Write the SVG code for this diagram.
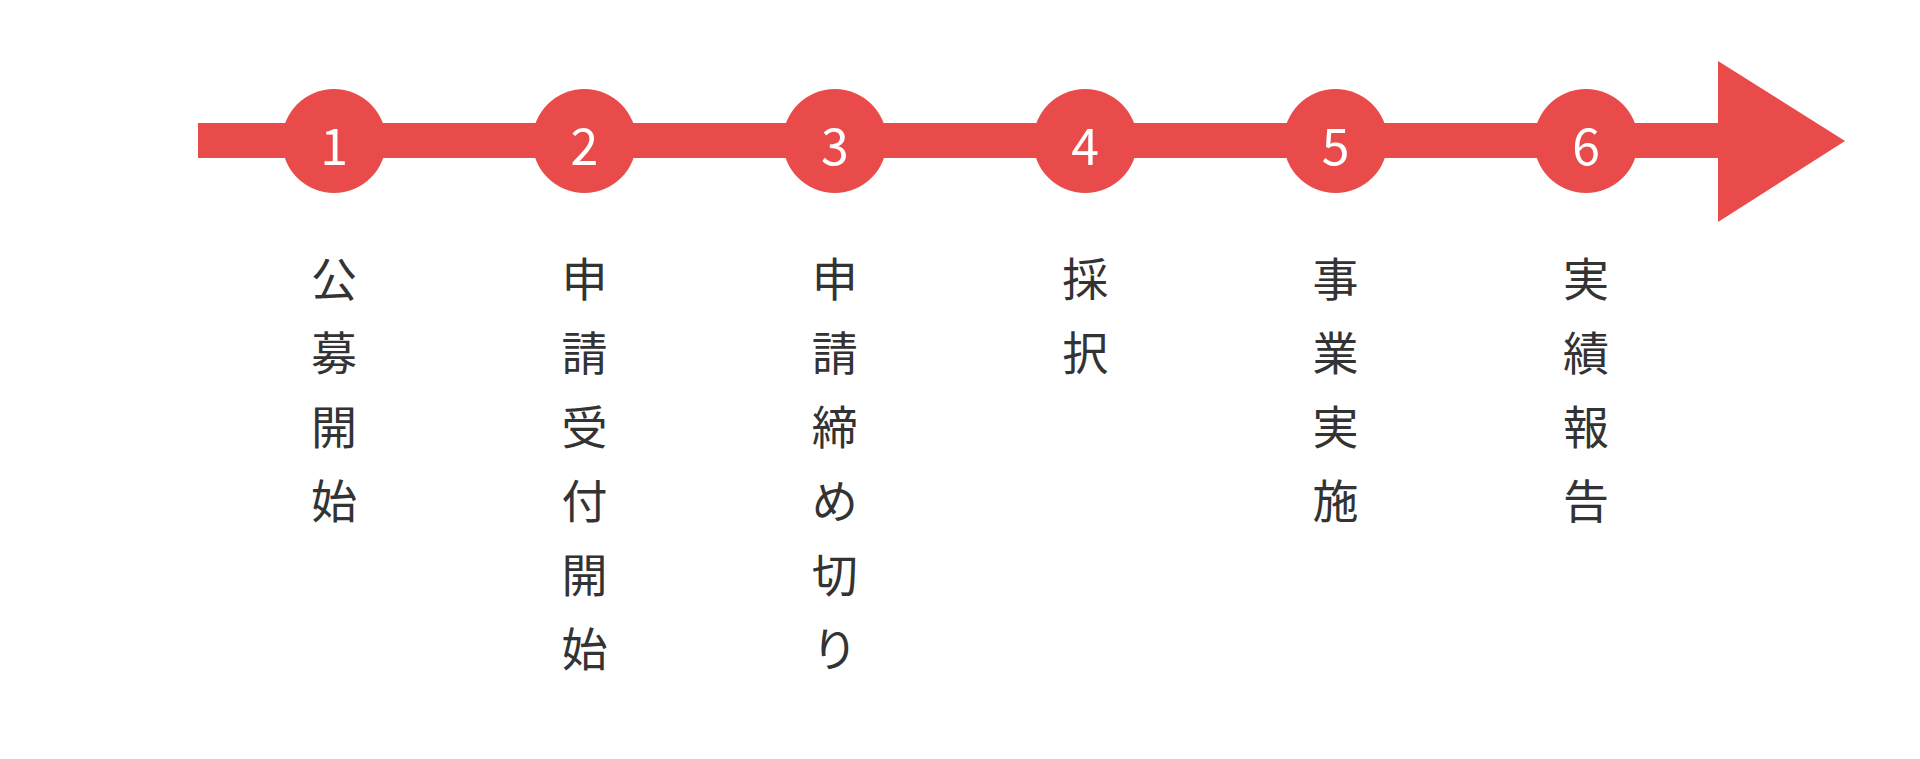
<svg xmlns="http://www.w3.org/2000/svg" width="1920" height="759" viewBox="0 0 1920 759">
<style>
.bar{fill:#E94B4B}
.dot{fill:#E94B4B}
.num{fill:#FFFFFF;font-family:"Noto Sans CJK JP","Noto Sans",sans-serif;font-size:50px;text-anchor:middle}
.lbl{fill:#333333;font-family:"Noto Sans CJK JP",sans-serif;font-size:46px;text-anchor:middle}
</style>
<rect width="1920" height="759" fill="#FFFFFF"/>
<g id="connectors">
<rect class="bar" x="198" y="123" width="1530" height="35"/>
<polygon class="bar" points="1718,61 1845,141 1718,222"/>
</g>
<g id="step1">
<circle class="dot" cx="334" cy="141" r="52"/>
<text class="num" x="334" y="165">1</text>
<text class="lbl"><tspan x="334" y="296">公</tspan><tspan x="334" y="370">募</tspan><tspan x="334" y="444">開</tspan><tspan x="334" y="518">始</tspan></text>
</g>
<g id="step2">
<circle class="dot" cx="584.4" cy="141" r="52"/>
<text class="num" x="584.4" y="165">2</text>
<text class="lbl"><tspan x="584.4" y="296">申</tspan><tspan x="584.4" y="370">請</tspan><tspan x="584.4" y="444">受</tspan><tspan x="584.4" y="518">付</tspan><tspan x="584.4" y="592">開</tspan><tspan x="584.4" y="666">始</tspan></text>
</g>
<g id="step3">
<circle class="dot" cx="834.8" cy="141" r="52"/>
<text class="num" x="834.8" y="165">3</text>
<text class="lbl"><tspan x="834.8" y="296">申</tspan><tspan x="834.8" y="370">請</tspan><tspan x="834.8" y="444">締</tspan><tspan x="834.8" y="518">め</tspan><tspan x="834.8" y="592">切</tspan><tspan x="834.8" y="666">り</tspan></text>
</g>
<g id="step4">
<circle class="dot" cx="1085.2" cy="141" r="52"/>
<text class="num" x="1085.2" y="165">4</text>
<text class="lbl"><tspan x="1085.2" y="296">採</tspan><tspan x="1085.2" y="370">択</tspan></text>
</g>
<g id="step5">
<circle class="dot" cx="1335.6" cy="141" r="52"/>
<text class="num" x="1335.6" y="165">5</text>
<text class="lbl"><tspan x="1335.6" y="296">事</tspan><tspan x="1335.6" y="370">業</tspan><tspan x="1335.6" y="444">実</tspan><tspan x="1335.6" y="518">施</tspan></text>
</g>
<g id="step6">
<circle class="dot" cx="1586" cy="141" r="52"/>
<text class="num" x="1586" y="165">6</text>
<text class="lbl"><tspan x="1586" y="296">実</tspan><tspan x="1586" y="370">績</tspan><tspan x="1586" y="444">報</tspan><tspan x="1586" y="518">告</tspan></text>
</g>
</svg>
